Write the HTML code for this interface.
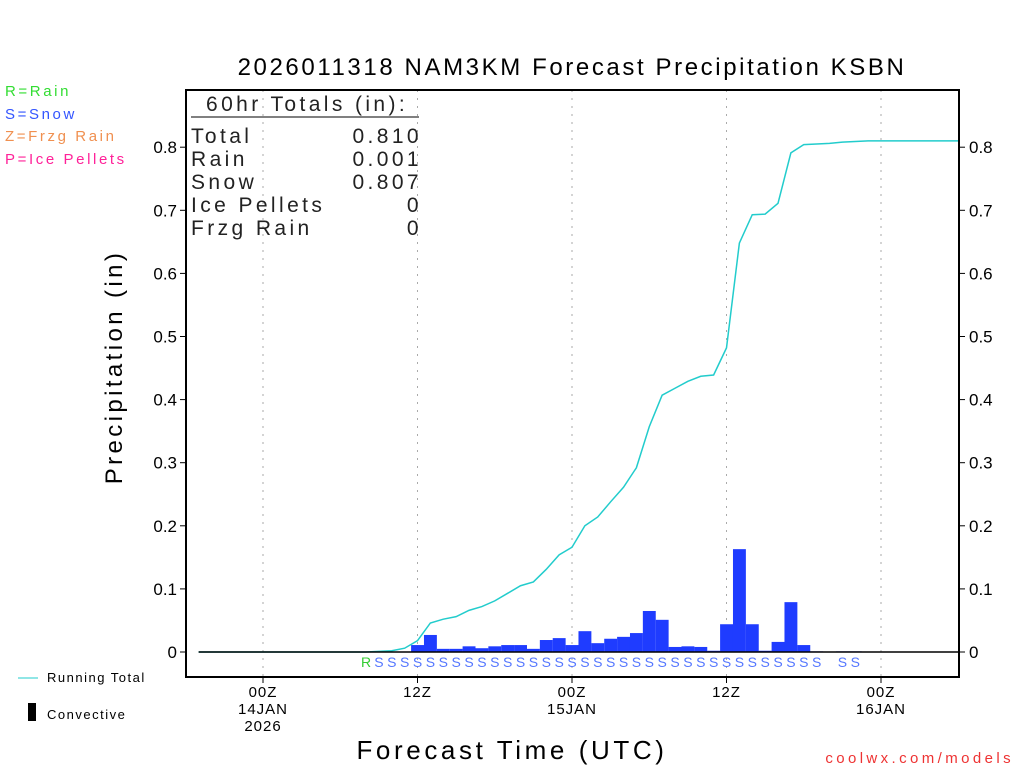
<!DOCTYPE html>
<html><head><meta charset="utf-8"><style>
body{margin:0;background:#fff;width:1024px;height:768px;overflow:hidden}
svg text{font-family:"Liberation Sans",sans-serif}
</style></head><body>
<svg id="c" width="1024" height="768" xmlns="http://www.w3.org/2000/svg">
<text x="572" y="75" text-anchor="middle" font-size="24" letter-spacing="2.6" fill="#000">2026011318 NAM3KM Forecast Precipitation KSBN</text>
<g font-size="15" letter-spacing="2.6">
<text x="5" y="96" fill="#33dd33">R=Rain</text>
<text x="5" y="119" fill="#3355ff">S=Snow</text>
<text x="5" y="141" fill="#f09050">Z=Frzg Rain</text>
<text x="5" y="164" fill="#ff2299">P=Ice Pellets</text>
</g>
<g id="grid"></g>
<g id="bars"></g>
<g id="line"></g>
<g id="axes"></g>
<g id="ptype" font-size="14" letter-spacing="0"></g>
<g font-size="21" letter-spacing="3.4" fill="#222">
<text x="206" y="111">60hr Totals (in):</text>
<line x1="191" y1="117" x2="419" y2="117" stroke="#000"/>
<text x="191" y="143">Total</text><text x="422" y="143" text-anchor="end">0.810</text>
<text x="191" y="166">Rain</text><text x="422" y="166" text-anchor="end">0.001</text>
<text x="191" y="189">Snow</text><text x="422" y="189" text-anchor="end">0.807</text>
<text x="191" y="212">Ice Pellets</text><text x="422" y="212" text-anchor="end">0</text>
<text x="191" y="235">Frzg Rain</text><text x="422" y="235" text-anchor="end">0</text>
</g>
<text transform="translate(122,367) rotate(-90)" text-anchor="middle" font-size="24" letter-spacing="3.4">Precipitation (in)</text>
<text x="512" y="759" text-anchor="middle" font-size="26" letter-spacing="3.6">Forecast Time (UTC)</text>
<text x="1014" y="763" text-anchor="end" font-size="15" letter-spacing="3.4" fill="#ee3333">coolwx.com/models</text>
<g font-size="13" letter-spacing="1.5">
<line x1="18" y1="678" x2="38" y2="678" stroke="#22cccc"/>
<text x="47" y="682">Running Total</text>
<rect x="28" y="703" width="8" height="18" fill="#000"/>
<text x="47" y="719">Convective</text>
</g>
</svg>
<script>
const yTicks=[0,0.1,0.2,0.3,0.4,0.5,0.6,0.7,0.8];
const xTickHours=[6,18,30,42,54];
const xTickLabels=[["00Z","14JAN","2026"],["12Z"],["00Z","15JAN"],["12Z"],["00Z","16JAN"]];
const barHours=[18,19,20,21,22,23,24,25,26,27,28,29,30,31,32,33,34,35,36,37,38,39,40,41,42,43,44,45,46,47,48,49,51,52];
const barValues=[0.011,0.027,0.005,0.005,0.009,0.006,0.009,0.011,0.011,0.005,0.019,0.022,0.011,0.033,0.014,0.021,0.024,0.030,0.065,0.051,0.008,0.009,0.008,0.002,0.044,0.163,0.044,0.002,0.016,0.079,0.011,0.001,0.001,0.001];
const totalHours=[1,14,15,16,17,18,19,20,21,22,23,24,25,26,27,28,29,30,31,32,33,34,35,36,37,38,39,40,41,42,43,44,45,46,47,48,49,50,51,52,53,60];
const totalValues=[0,0,0.001,0.002,0.006,0.018,0.046,0.052,0.056,0.066,0.072,0.081,0.093,0.105,0.111,0.131,0.154,0.166,0.200,0.214,0.238,0.261,0.292,0.357,0.407,0.418,0.429,0.437,0.439,0.482,0.648,0.693,0.694,0.711,0.791,0.804,0.805,0.806,0.808,0.809,0.810,0.810];
const typeHours=[14,15,16,17,18,19,20,21,22,23,24,25,26,27,28,29,30,31,32,33,34,35,36,37,38,39,40,41,42,43,44,45,46,47,48,49,51,52];
const typeLetters=["R","S","S","S","S","S","S","S","S","S","S","S","S","S","S","S","S","S","S","S","S","S","S","S","S","S","S","S","S","S","S","S","S","S","S","S","S","S"];
const L=186,R=959,T=90,B=677;
const X=h=>185.75+h*12.875, Y=v=>652-v*631;
const NS='http://www.w3.org/2000/svg';
function mk(p,t,a,txt){const e=document.createElementNS(NS,t);for(const k in a)e.setAttribute(k,a[k]);if(txt!=null)e.textContent=txt;document.getElementById(p).appendChild(e);return e;}
xTickHours.forEach((h,i)=>{
 const g=mk('grid','line',{x1:X(h),x2:X(h),y1:T,y2:B,stroke:'#aaa','stroke-dasharray':'2,6'});
 
 
 mk('axes','line',{x1:X(h),x2:X(h),y1:B,y2:B+6,stroke:'#000'});
 xTickLabels[i].forEach((s,j)=>{const t=mk('axes','text',{x:X(h),y:697+j*17,'text-anchor':'middle','font-size':15,'letter-spacing':1},s);
 
 });
});
barHours.forEach((h,i)=>{
 const r=mk('bars','rect',{x:X(h)-6.4,y:Y(barValues[i]),width:12.9,height:Math.max(0,652-Y(barValues[i])),fill:'#1f3cff'});
 
 
});
const pl=mk('line','polyline',{points:totalHours.map((h,i)=>X(h)+','+Y(totalValues[i])).join(' '),fill:'none',stroke:'#22cccc','stroke-width':1.5});


mk('axes','line',{x1:X(1),x2:R,y1:652,y2:652,stroke:'#000','stroke-width':1.5});
mk('axes','rect',{x:L,y:T,width:R-L,height:B-T,fill:'none',stroke:'#000','stroke-width':2});
yTicks.forEach(v=>{
 mk('axes','line',{x1:L-6,x2:L,y1:Y(v),y2:Y(v),stroke:'#000'});
 mk('axes','line',{x1:R,x2:R+6,y1:Y(v),y2:Y(v),stroke:'#000'});
 const s=v===0?'0':v.toFixed(1);
 const a=mk('axes','text',{x:L-9,y:Y(v)+6,'text-anchor':'end','font-size':17},s);
 
 
 const b=mk('axes','text',{x:R+10,y:Y(v)+6,'font-size':17},s);
 
 
});
typeHours.forEach((h,i)=>{
 const t=mk('ptype','text',{x:X(h),y:667,'text-anchor':'middle',fill:typeLetters[i]==='R'?'#33cc33':'#5577ff'},typeLetters[i]);
 
 
});
</script>
</body></html>
